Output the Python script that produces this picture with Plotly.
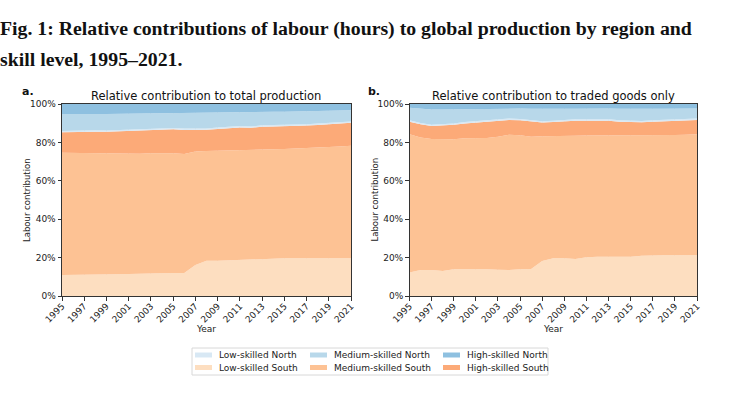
import plotly.graph_objects as go
from plotly.subplots import make_subplots

years = list(range(1995, 2022))

# Panel a: relative contribution to total production (% shares)
a_low_south = [11.0, 11.0, 11.0, 11.1, 11.2, 11.3, 11.5, 11.5, 11.7, 11.8, 12.0, 12.0, 16.2, 18.3, 18.4, 18.6, 18.8, 19.0, 19.5, 19.5, 19.6, 19.6, 19.6, 19.5, 19.5, 19.5, 19.6]
a_med_south = [63.6, 63.5, 63.4, 63.3, 63.2, 63.0, 62.7, 62.6, 62.7, 62.7, 62.4, 61.9, 59.1, 57.2, 57.2, 57.1, 57.2, 56.9, 56.7, 56.9, 57.0, 57.2, 57.4, 57.7, 58.0, 58.4, 58.7]
a_high_south = [10.7, 11.0, 11.2, 11.2, 11.1, 11.4, 11.7, 12.0, 12.0, 11.8, 12.4, 12.6, 11.2, 11.1, 11.4, 11.7, 11.8, 11.7, 12.0, 11.9, 11.8, 11.7, 11.8, 11.9, 11.9, 11.9, 11.9]
a_low_north = [0.7, 0.7, 0.7, 0.7, 0.7, 0.7, 0.7, 0.7, 0.7, 0.7, 0.7, 0.7, 0.7, 0.7, 0.7, 0.7, 0.7, 0.7, 0.7, 0.7, 0.7, 0.7, 0.7, 0.7, 0.7, 0.7, 0.7]
a_med_north = [8.8, 8.7, 8.6, 8.5, 8.6, 8.5, 8.4, 8.2, 8.0, 8.2, 7.8, 8.1, 8.1, 8.1, 7.8, 7.5, 7.2, 7.4, 6.9, 6.9, 6.8, 6.8, 6.6, 6.4, 6.2, 6.0, 5.8]
a_high_north = [5.2, 5.1, 5.1, 5.2, 5.2, 5.1, 5.0, 5.0, 4.9, 4.8, 4.7, 4.7, 4.7, 4.6, 4.5, 4.4, 4.3, 4.3, 4.2, 4.1, 4.1, 4.0, 3.9, 3.8, 3.7, 3.5, 3.3]

# Panel b: relative contribution to traded goods only (% shares)
b_low_south = [12.3, 13.5, 13.5, 13.0, 13.9, 14.0, 14.0, 13.9, 13.7, 13.5, 13.9, 14.0, 18.2, 19.6, 19.6, 19.3, 20.2, 20.5, 20.4, 20.5, 20.4, 20.9, 21.2, 21.2, 21.2, 21.4, 21.4]
b_med_south = [71.9, 69.1, 68.3, 68.6, 67.7, 68.1, 68.3, 68.4, 69.2, 70.5, 69.8, 68.9, 65.0, 63.8, 63.9, 64.2, 63.4, 63.1, 63.3, 63.1, 63.1, 62.6, 62.4, 62.5, 62.6, 62.6, 62.8]
b_high_south = [6.6, 6.8, 6.7, 7.1, 7.6, 7.8, 8.0, 8.3, 8.1, 7.7, 7.8, 8.1, 7.1, 7.2, 7.5, 7.8, 7.7, 7.7, 7.6, 7.2, 7.0, 7.0, 7.2, 7.3, 7.4, 7.5, 7.5]
b_low_north = [0.7, 0.7, 0.7, 0.7, 0.7, 0.7, 0.7, 0.7, 0.7, 0.7, 0.7, 0.7, 0.7, 0.7, 0.7, 0.7, 0.7, 0.7, 0.7, 0.7, 0.7, 0.7, 0.7, 0.7, 0.7, 0.7, 0.7]
b_med_north = [6.5, 7.5, 8.0, 7.8, 7.4, 6.8, 6.5, 6.2, 5.9, 5.2, 5.4, 5.8, 6.4, 6.1, 5.8, 5.5, 5.6, 5.6, 5.6, 6.0, 6.2, 6.2, 6.0, 5.8, 5.7, 5.4, 5.2]
b_high_north = [2.0, 2.4, 2.8, 2.8, 2.7, 2.6, 2.5, 2.5, 2.4, 2.4, 2.4, 2.5, 2.6, 2.6, 2.5, 2.5, 2.4, 2.4, 2.4, 2.5, 2.6, 2.6, 2.5, 2.5, 2.4, 2.4, 2.4]

categories = ["Low-skilled South", "Medium-skilled South", "High-skilled South",
              "Low-skilled North", "Medium-skilled North", "High-skilled North"]
colors = ["rgb(253,222,192)", "rgb(253,194,148)", "rgb(252,170,120)",
          "rgb(216,232,244)", "rgb(184,216,234)", "rgb(142,192,224)"]

panel_a = [a_low_south, a_med_south, a_high_south, a_low_north, a_med_north, a_high_north]
panel_b = [b_low_south, b_med_south, b_high_south, b_low_north, b_med_north, b_high_north]

x_ticks = list(range(1995, 2022, 2))
y_ticks = [0, 20, 40, 60, 80, 100]
y_tick_text = ["0%", "20%", "40%", "60%", "80%", "100%"]

FONT = "DejaVu Sans"
W, H = 730, 393


def px(x):
    return x / W


def py(y):
    return 1 - y / H


fig = make_subplots(rows=1, cols=2)

for col, (data, grp) in enumerate([(panel_a, "a"), (panel_b, "b")], start=1):
    for i, (name, vals) in enumerate(zip(categories, data)):
        fig.add_trace(go.Scatter(
            x=years, y=vals, name=name, stackgroup=grp, groupnorm="percent",
            mode="lines", line=dict(width=0, color=colors[i]), fillcolor=colors[i],
            showlegend=False, hoverinfo="x+y+name",
        ), row=1, col=col)

axis_common = dict(showline=True, linecolor="#333", linewidth=1, mirror=True,
                   ticks="outside", ticklen=3.5, tickcolor="#333", automargin=False,
                   tickfont=dict(family=FONT, size=9, color="#222"))

fig.update_xaxes(range=[1995, 2021], tickvals=x_ticks, tickangle=-45, ticklabelstandoff=-3,
                 showgrid=True, gridcolor="rgba(0,0,0,0.07)", gridwidth=1,
                 zeroline=False, **axis_common)
fig.update_yaxes(range=[0, 100], tickvals=y_ticks, ticktext=y_tick_text, showgrid=False, zeroline=False,
                 **axis_common)

fig.update_layout(
    width=W, height=H,
    margin=dict(l=0, r=0, t=0, b=0, autoexpand=False),
    paper_bgcolor="white", plot_bgcolor="white",
    xaxis=dict(domain=[px(62), px(351)]),
    xaxis2=dict(domain=[px(409.5), px(697)]),
    yaxis=dict(domain=[py(296), py(104)]),
    yaxis2=dict(domain=[py(296), py(104)]),
    showlegend=False,
)

# Title
title_font = dict(family="Liberation Serif", size=19.8, color="#111", weight="bold")
fig.add_annotation(text="Fig. 1: Relative contributions of labour (hours) to global production by region and",
                   x=px(-2), y=py(15), xanchor="left", yanchor="top", xref="paper", yref="paper",
                   showarrow=False, font=title_font)
fig.add_annotation(text="skill level, 1995–2021.", x=px(-2), y=py(46), xanchor="left", yanchor="top",
                   xref="paper", yref="paper", showarrow=False, font=title_font)

# Panel letters and subplot titles
for lbl, xx in [("a.", 20), ("b.", 366)]:
    fig.add_annotation(text=lbl, xref="paper", yref="paper", x=px(xx), y=py(83),
                       xanchor="left", yanchor="top", showarrow=False,
                       font=dict(family=FONT, size=11, color="#111", weight="bold"))
sub_titles = ["Relative contribution to total production", "Relative contribution to traded goods only"]
for t, (x0, x1) in zip(sub_titles, [(62, 351), (409.5, 697)]):
    fig.add_annotation(text=t, xref="paper", yref="paper",
                       x=px((x0 + x1) / 2), y=py(104.5), xanchor="center", yanchor="bottom",
                       showarrow=False, font=dict(family=FONT, size=11.5, color="#111"))
    # axis titles
    fig.add_annotation(text="Year", xref="paper", yref="paper", x=px((x0 + x1) / 2), y=py(329),
                       xanchor="center", yanchor="middle", showarrow=False,
                       font=dict(family=FONT, size=9, color="#222"))
    fig.add_annotation(text="Labour contribution", xref="paper", yref="paper", x=px(x0 - 35), y=py(200),
                       xanchor="center", yanchor="middle", textangle=-90, showarrow=False,
                       font=dict(family=FONT, size=8.5, color="#222"))

# Legend (two rows x three columns, North on top row)
fig.add_shape(type="rect", xref="paper", yref="paper", x0=px(192), x1=px(548), y0=py(348), y1=py(375),
              line=dict(color="#d8d8d8", width=1), fillcolor="white", layer="above")
col_x = [195, 310, 443]
row_y = [355, 367.5]
legend_layout = [(3, 0, 0), (4, 0, 1), (5, 0, 2), (0, 1, 0), (1, 1, 1), (2, 1, 2)]
for idx, r, c in legend_layout:
    x0 = col_x[c]
    yc = row_y[r]
    fig.add_shape(type="rect", xref="paper", yref="paper", x0=px(x0), x1=px(x0 + 17),
                  y0=py(yc - 2.5), y1=py(yc + 2.5), line=dict(width=0), fillcolor=colors[idx], layer="above")
    fig.add_annotation(text=categories[idx], xref="paper", yref="paper", x=px(x0 + 22), y=py(yc),
                       xanchor="left", yanchor="middle", showarrow=False,
                       font=dict(family=FONT, size=9, color="#222"))

fig.write_html("out.html", config={"displayModeBar": False},
               post_script="document.body.style.margin='0px';")
